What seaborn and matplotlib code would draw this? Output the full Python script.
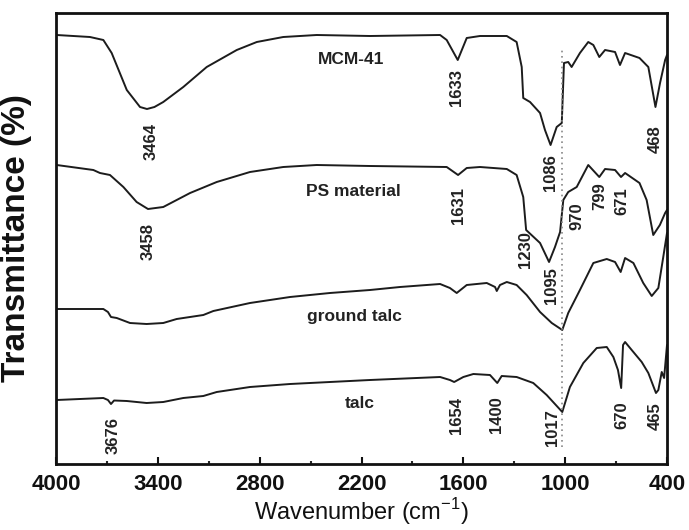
import numpy as np
import pandas as pd
import matplotlib
matplotlib.use("Agg")
import matplotlib.pyplot as plt
from matplotlib.ticker import FixedLocator
import seaborn as sns

# ---------------- data ----------------
mcm41_wn = [3996, 3800, 3721, 3672, 3583, 3505, 3464, 3420, 3368, 3250, 3112, 2935,
            2817, 2661, 2464, 2150, 1737, 1698, 1633, 1580, 1502, 1344, 1286, 1256,
            1247, 1207, 1148, 1119, 1086, 1050, 1020, 1007, 982, 962, 913, 864, 834,
            799, 765, 706, 677, 647, 562, 510, 468, 441, 411, 400]
mcm41_t = [429, 427, 424, 411, 374, 357, 355, 357, 362, 377, 397, 414,
           422, 427, 429, 428, 429, 424, 404, 426, 428, 428, 422, 397,
           366, 362, 351, 334, 319, 337, 341, 401, 402, 397, 411, 422, 419,
           407, 414, 412, 399, 411, 406, 397, 357, 381, 404, 409]

ps_wn = [3996, 3780, 3741, 3682, 3603, 3525, 3458, 3368, 3210, 3053, 2857, 2661,
         2464, 2150, 1698, 1631, 1580, 1502, 1344, 1286, 1247, 1230, 1148, 1095,
         1060, 1030, 1011, 982, 932, 864, 799, 765, 706, 671, 647, 562, 520, 481,
         442, 411, 400]
ps_t = [299, 294, 291, 289, 277, 262, 255, 257, 271, 282, 292, 297,
        299, 298, 297, 289, 296, 297, 295, 289, 267, 234, 221, 202,
        217, 232, 264, 272, 277, 299, 287, 295, 294, 287, 291, 281, 264, 229,
        239, 251, 254]

ground_wn = [3996, 3721, 3694, 3676, 3642, 3564, 3466, 3368, 3289, 3132, 3073, 2857,
             2621, 2386, 2150, 1973, 1737, 1679, 1639, 1580, 1462, 1413, 1403, 1384,
             1344, 1286, 1227, 1148, 1079, 1017, 982, 913, 834, 755, 706, 673, 647,
             598, 540, 490, 451, 422, 400]
ground_t = [155, 155, 152, 147, 146, 141, 140, 141, 145, 149, 153, 161,
            167, 171, 174, 177, 180, 176, 171, 179, 181, 177, 173, 179,
            182, 179, 169, 152, 141, 134, 151, 174, 201, 205, 202, 192, 206,
            201, 181, 168, 176, 207, 231]

talc_wn = [3996, 3721, 3694, 3676, 3658, 3583, 3466, 3368, 3250, 3132, 3053, 2857,
           2621, 2386, 2150, 1737, 1679, 1654, 1600, 1541, 1443, 1400, 1374, 1286,
           1188, 1109, 1017, 972, 893, 814, 755, 716, 689, 670, 659, 647, 608, 549,
           510, 465, 451, 431, 417, 400]
talc_t = [64, 66, 64, 60, 63.5, 63, 61, 62, 66, 68, 72, 77,
          80, 82, 84, 87, 84, 82, 87, 90, 89, 81, 88, 87,
          81, 69, 52, 77, 101, 116, 117, 107, 94, 76, 119, 122, 114, 102,
          91, 71, 74, 92, 86, 119]

samples = ["MCM-41", "PS material", "ground talc", "talc"]
major_ticks = [4000, 3400, 2800, 2200, 1600, 1000, 400]
minor_ticks = [3700, 3100, 2500, 1900, 1300, 700]
guide_wn = 1017

# peak labels: (text, wavenumber position, vertical position)
peak_labels = [("3464", 3442, 323), ("1633", 1639, 377), ("1086", 1089, 291),
               ("468", 470, 325),
               ("3458", 3458, 222), ("1631", 1630, 259), ("1230", 1231, 214),
               ("1095", 1079, 178), ("970", 932, 248), ("799", 795, 268),
               ("671", 667, 263),
               ("3676", 3664, 29), ("1654", 1639, 49), ("1400", 1403, 49),
               ("1017", 1074, 36), ("670", 667, 49), ("465", 470, 48)]
name_labels = [("MCM-41", 2262, 404), ("PS material", 2250, 273),
               ("ground talc", 2244, 147), ("talc", 2209, 61)]

# ---------------- build frame ----------------
frames = []
for name, wn, t in zip(samples, [mcm41_wn, ps_wn, ground_wn, talc_wn],
                       [mcm41_t, ps_t, ground_t, talc_t]):
    frames.append(pd.DataFrame({"wavenumber": wn, "T": t, "sample": name}))
df = pd.concat(frames, ignore_index=True)

# ---------------- plot ----------------
sns.set_style("ticks")
plt.rcParams["font.family"] = ["Liberation Sans", "DejaVu Sans"]
plt.rcParams["mathtext.fontset"] = "custom"
plt.rcParams["mathtext.rm"] = "Liberation Sans"

fig, ax = plt.subplots(figsize=(6.89, 5.30), dpi=100)
fig.subplots_adjust(left=56 / 689, right=667 / 689, bottom=66 / 530, top=517 / 530)

sns.lineplot(data=df, x="wavenumber", y="T", hue="sample", units="sample",
             estimator=None, palette=["#1c1c1c"] * 4, legend=False,
             linewidth=1.4, ax=ax)

ax.axvline(guide_wn, ymin=17 / 451, ymax=416 / 451, color="#888888",
           linestyle=(0, (1, 2.2)), linewidth=1.2)

for txt, x, y in peak_labels:
    ax.text(x, y, txt, rotation=90, ha="center", va="center",
            fontsize=12, fontweight="bold", color="#222222")
for txt, x, y in name_labels:
    ax.text(x, y, txt, ha="center", va="center", fontsize=12.5,
            fontweight="bold", color="#222222")

ax.set_xlim(4000, 400)
ax.set_ylim(0, 451)
ax.xaxis.set_major_locator(FixedLocator(major_ticks))
ax.xaxis.set_minor_locator(FixedLocator(minor_ticks))
ax.set_yticks([])
ax.tick_params(axis="x", which="major", direction="in", length=5, width=1.5,
               pad=7, labelsize=16, colors="#111111")
ax.tick_params(axis="x", which="minor", direction="in", length=2.5, width=1.5)
for lab in ax.get_xticklabels():
    lab.set_fontweight("bold")

for sp in ax.spines.values():
    sp.set_visible(True)
    sp.set_linewidth(2)
    sp.set_color("#111111")

ax.set_xlabel(r"Wavenumber (cm$^{-1}$)", fontsize=17, labelpad=1, color="#111111")
ax.set_ylabel("Transmittance (%)", fontsize=24, fontweight="bold", color="#111111")
ax.yaxis.set_label_coords(-0.04, 0.5)

fig.savefig("out.png", dpi=100)
